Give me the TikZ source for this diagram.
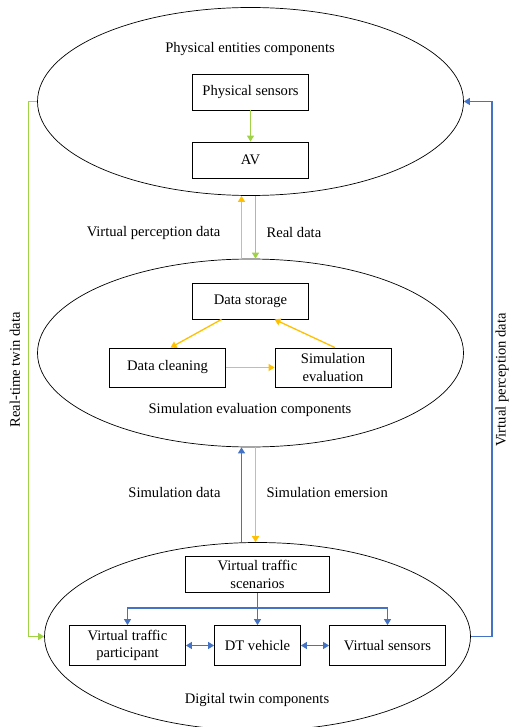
\documentclass[tikz,border=0pt]{standalone}
\usepackage{fontspec}
\setmainfont{Liberation Serif}
\usetikzlibrary{shapes.geometric,arrows.meta}

\definecolor{limegreen}{RGB}{160,210,70}
\definecolor{amber}{RGB}{255,192,0}
\definecolor{steelblue}{RGB}{68,114,196}

\begin{document}
\begin{tikzpicture}[x=1pt, y=-1pt,
	every node/.style={font=\fontsize{14.6}{17.5}\selectfont},
	part/.style={draw, ellipse, line width=0.7pt, minimum width=426pt, minimum height=188pt, inner sep=0pt},
	box/.style={draw, line width=0.8pt, minimum width=116pt, minimum height=36pt, align=center, inner sep=1pt},
	tip/.style={-{Triangle[width=7pt,length=6pt]}},
	dtip/.style={{Triangle[width=7pt,length=6pt]}-{Triangle[width=7pt,length=6pt]}},
	grn/.style={color=limegreen, line width=1.3pt},
	org/.style={color=amber, line width=1.3pt},
	blu/.style={color=steelblue, line width=1.3pt}]

	\useasboundingbox (0,0) rectangle (511,727);

	% the three component groups
	\node[part] (phys) at (250.5,101.5) {};
	\node[part] (simu) at (250.5,353) {};
	\node[part] (twin) at (257.5,636.5) {};

	\node (physT) at (250,49) {Physical entities components};
	\node (simuT) at (250,410) {Simulation evaluation components};
	\node (twinT) at (257,700) {Digital twin components};

	% physical entities
	\node[box] (sens) at (250.5,92) {Physical sensors};
	\node[box] (av) at (250.5,160) {AV};
	\draw[grn, tip] (sens.south) -- (av.north);

	% simulation evaluation
	\node[box] (store) at (250.5,301) {Data storage};
	\node[box, minimum height=39pt] (clean) at (167.5,367.5) {Data cleaning};
	\node[box, minimum height=39pt] (evalb) at (333,367.5) {Simulation\\evaluation};
	\draw[org, tip] ([xshift=-29pt]store.south) -- ([xshift=3pt]clean.north);
	\draw[org, tip] ([xshift=2pt]evalb.north) -- ([xshift=24pt]store.south);
	\draw[org, tip] (clean.east) -- (evalb.west);

	% digital twin
	\node[box, minimum width=144pt] (scen) at (257.5,574.5) {Virtual traffic\\scenarios};
	\node[box, minimum height=40pt] (vtp) at (127.5,645.5) {Virtual traffic\\participant};
	\node[box, minimum width=86pt, minimum height=40pt] (dtv) at (257.5,645.5) {DT vehicle};
	\node[box, minimum height=40pt] (vsens) at (387.5,645.5) {Virtual sensors};
	\coordinate (split) at ([yshift=-15pt]scen.south);
	\draw[blu, tip] (scen.south) -- (dtv.north);
	\draw[blu, tip] (split) -| (vtp.north);
	\draw[blu, tip] (split) -| (vsens.north);
	\draw[blu, dtip] (vtp.east) -- (dtv.west);
	\draw[blu, dtip] (dtv.east) -- (vsens.west);

	% links between the groups
	\draw[org, tip] ([xshift=-9pt]simu.north) -- ([xshift=-9pt]phys.south);
	\draw[grn, tip] ([xshift=5pt]phys.south) -- ([xshift=5pt]simu.north);
	\draw[blu, tip] ([xshift=-9pt]simu.south |- twin.north) -- ([xshift=-9pt]simu.south);
	\draw[org, tip] ([xshift=5pt]simu.south) -- ([xshift=5pt]simu.south |- twin.north);

	\node[anchor=east] (vpd) at (224,233) {Virtual perception data};
	\node[anchor=west] (real) at (263,233) {Real data};
	\node[anchor=east] (simd) at (224,493) {Simulation data};
	\node[anchor=west] (emer) at (263,493) {Simulation emersion};

	% outer loops
	\draw[grn, tip] (phys.west) -- ++(-9,0) |- (twin.west);
	\draw[blu, tip] (twin.east) -- ++(21,0) |- (phys.east);
	\node[rotate=90] (rtt) at (15,370) {Real-time twin data};
	\node[rotate=90] (vpl) at (502,380) {Virtual perception data};

\end{tikzpicture}
\end{document}
